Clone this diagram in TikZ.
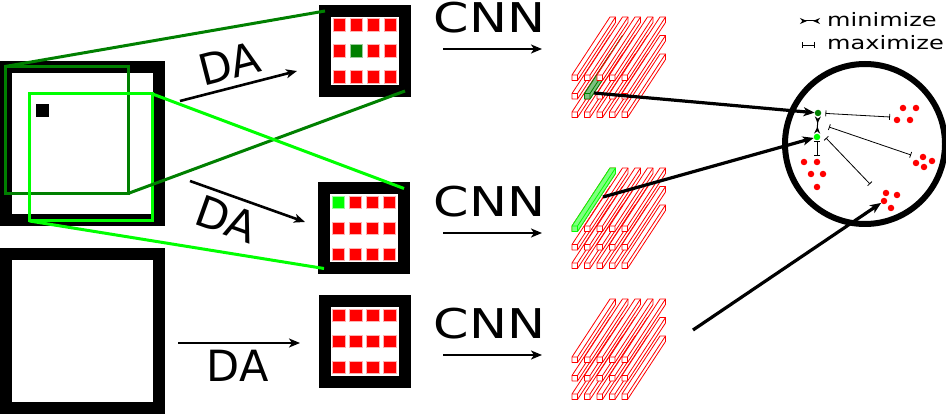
\documentclass[tikz,border=0pt]{standalone}
\usepackage{fontspec}
\setmainfont{DejaVu Sans}
\usetikzlibrary{arrows.meta,calc}

% one column of a CNN feature map, #1 = front corner
\newcommand{\featbar}[3]{%
  \filldraw[draw=#2, fill=#3, line width=0.8pt, line join=round, shift={#1}]
    (0,5.5) -- (0,0) -- (38,-58) -- (43.5,-58) -- (43.5,-52.5) -- (5.5,5.5) -- cycle;
  \draw[draw=#2, line width=0.8pt, shift={#1}]
    (0,0) -- (5.5,0) -- (5.5,5.5) (5.5,0) -- (43.5,-58);
}

\begin{document}
\begin{tikzpicture}[x=1pt,y=-1pt]
\tikzstyle{photo} = [rectangle, draw=black, line width=12pt, fill=white,
minimum width=153pt, minimum height=153pt, inner sep=0pt, outer sep=0pt]
\tikzstyle{patch} = [rectangle, draw=black, line width=12pt, fill=white,
minimum width=80pt, minimum height=80pt, inner sep=0pt, outer sep=0pt]
\tikzstyle{cell} = [rectangle, fill=red, draw=red!30, line width=0.6pt,
minimum size=12.5pt, inner sep=0pt]
\tikzstyle{crop_dark} = [rectangle, draw=green!50!black, line width=3pt,
minimum width=123pt, minimum height=127pt, inner sep=0pt, outer sep=0pt]
\tikzstyle{crop_light} = [crop_dark, draw=green]
\tikzstyle{flow} = [draw, line width=2.6pt, -{Stealth[length=11pt,width=9pt,inset=3pt]}]
\tikzstyle{datext} = [font=\fontsize{43}{43}\selectfont, inner sep=0pt]
\tikzstyle{cnntext} = [font=\fontsize{41}{41}\selectfont, inner sep=0pt]
\tikzstyle{legtext} = [font=\fontsize{18.5}{18.5}\selectfont, inner sep=0pt, anchor=base west]
\tikzstyle{dot} = [circle, fill=red, inner sep=0pt, minimum size=6.5pt]
\tikzstyle{maxi} = [draw, line width=0.8pt, {Bar[width=6pt]}-{Bar[width=6pt]}]
\tikzstyle{mini} = [draw, line width=1pt,
{Stealth[reversed,length=7pt,width=6pt]}-{Stealth[reversed,length=7pt,width=6pt]}]

\useasboundingbox (0,0) rectangle (946,414);

% input images
\node[photo] (img1) at (82.5,144) {};
\node[photo] (img2) at (82.5,331) {};
\node[rectangle, fill=black, minimum size=13pt, inner sep=0pt] (obj) at (42.5,110.5) {};

% the two crops
\node[crop_dark] (crop1) at (66.5,130) {};
\node[crop_light] (crop2) at (91,157.5) {};

% augmented patches
\node[patch] (grid1) at (365,51) {};
\node[patch] (grid2) at (364,228.5) {};
\node[patch] (grid3) at (364.5,341.5) {};
\foreach \g in {grid1,grid2,grid3}
  \foreach \i in {0,...,3}
    \foreach \j in {0,...,2}
      {\node[cell] (\g-\i-\j) at ($(\g)+({-25.5+17*\i},{-26+26*\j})$) {};}
\node[cell, fill=green!50!black, draw=green!50!black!40] (pick1) at (grid1-1-1) {};
\node[cell, fill=green, draw=green!40] (pick2) at (grid2-0-0) {};

\draw[green!50!black, line width=3pt] (crop1.north west) -- (grid1.north west);
\draw[green!50!black, line width=3pt] (crop1.south east) -- (grid1.south east);
\draw[green, line width=3pt] (crop2.north east) -- (grid2.north east);
\draw[green, line width=3pt] (crop2.south west) -- (grid2.south west);

% DA
\coordinate (da1s) at (180,101); \coordinate (da1e) at (297,71);
\coordinate (da2s) at (190,181); \coordinate (da2e) at (305,222);
\coordinate (da3s) at (178,343); \coordinate (da3e) at (300,343);
\draw[flow] (da1s) -- node[datext, sloped, above=7pt, pos=0.47] (da1) {DA} (da1e);
\draw[flow] (da2s) -- node[datext, sloped, below=7pt, pos=0.39] (da2) {DA} (da2e);
\draw[flow] (da3s) -- node[datext, below=6pt, pos=0.49] (da3) {DA} (da3e);

% CNN
\coordinate (cnn1s) at (443,49); \coordinate (cnn1e) at (542,49);
\coordinate (cnn2s) at (443,233); \coordinate (cnn2e) at (542,233);
\coordinate (cnn3s) at (443,355); \coordinate (cnn3e) at (542,355);
\draw[flow] (cnn1s) -- node[cnntext, above=15pt, xshift=-3pt] (cnn1) {\scalebox{1.24}[1]{CNN}} (cnn1e);
\draw[flow] (cnn2s) -- node[cnntext, above=15pt, xshift=-3pt] (cnn2) {\scalebox{1.24}[1]{CNN}} (cnn2e);
\draw[flow] (cnn3s) -- node[cnntext, above=15pt, xshift=-3pt] (cnn3) {\scalebox{1.24}[1]{CNN}} (cnn3e);

% feature maps
\begin{scope}[shift={(572,75)}]
\foreach \r in {2,1}
  \foreach \c in {0,...,4}
    {\featbar{({12.5*\c},{18.5*\r})}{red}{white}}
\featbar{(12.5,18.5)}{green!50!black}{green!50!black!50}
\foreach \c in {0,...,4}
  {\featbar{({12.5*\c},0)}{red}{white}}
\coordinate (src1) at (22,18);
\end{scope}
\begin{scope}[shift={(572,226)}]
\foreach \r in {2,1,0}
  \foreach \c in {0,...,4}
    {\featbar{({12.5*\c},{18.5*\r})}{red}{white}}
\featbar{(0,0)}{green}{green!50}
\coordinate (src2) at (31,-29);
\end{scope}
\begin{scope}[shift={(572,357)}]
\foreach \r in {2,1,0}
  \foreach \c in {0,...,4}
    {\featbar{({12.5*\c},{18.5*\r})}{red}{white}}
\end{scope}
\coordinate (src3) at (693,330);

% embedding space
\node[circle, draw=black, line width=6pt, minimum size=160pt, inner sep=0pt] (space) at (865,144) {};
\node[dot, fill=green!50!black] (anchor) at (818,113) {};
\node[dot, fill=green] (posv) at (817,137) {};
\foreach \p [count=\k] in {(903,108),(916,108),(897,120),(910,120)}
  {\node[dot] (a\k) at \p {};}
\foreach \p [count=\k] in {(923,157),(916,163),(932,161),(924,167)}
  {\node[dot] (b\k) at \p {};}
\foreach \p [count=\k] in {(804,162),(817,162),(811,174),(823,174),(817,187)}
  {\node[dot] (c\k) at \p {};}
\foreach \p [count=\k] in {(886,193),(897,195),(884,201),(891,208)}
  {\node[dot] (d\k) at \p {};}

\draw[flow, line width=3.2pt] (src1) -- (anchor);
\draw[flow, line width=3.2pt] (src2) -- (posv);
\draw[flow, line width=3.2pt] (src3) -- (d3);

\coordinate (m1) at (890,117);
\coordinate (m2s) at (829,127); \coordinate (m2e) at (911,155);
\coordinate (m3s) at (826,138); \coordinate (m3e) at (870,184);
\draw[maxi, shorten <=4pt] (anchor) -- (m1);
\draw[maxi] (m2s) -- (m2e);
\draw[maxi] (m3s) -- (m3e);
\draw[maxi, shorten <=1pt, shorten >=3pt] (posv) -- (c2);
\draw[mini] (anchor) -- (posv);

% legend
\node[legtext] (legmin) at (827,27) {\scalebox{1.3}[1]{minimize}};
\node[legtext] (legmax) at (827,50) {\scalebox{1.3}[1]{maximize}};
\draw[mini] ([xshift=-27pt,yshift=6pt]legmin.base west) -- ([xshift=-7pt,yshift=6pt]legmin.base west);
\draw[maxi, line width=0.6pt] ([xshift=-25pt,yshift=5pt]legmax.base west) -- ([xshift=-12pt,yshift=5pt]legmax.base west);

\end{tikzpicture}
\end{document}
